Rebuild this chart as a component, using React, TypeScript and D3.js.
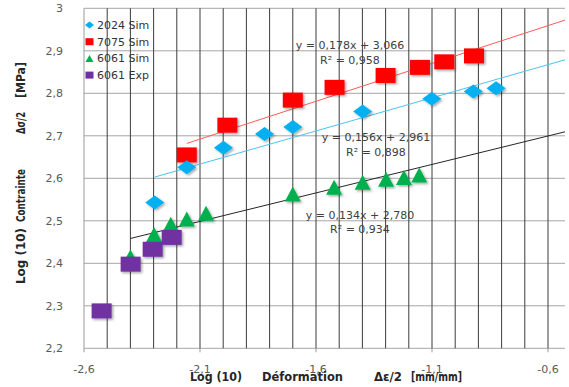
import React from "react";
import * as d3 from "d3";

// ---------- data ----------
const seriesNames = ["2024 Sim", "7075 Sim", "6061 Sim", "6061 Exp"];
const seriesColors = ["#00B0F0", "#FF0000", "#00B050", "#7030A0"];

const x2024 = [-2.295, -2.157, -1.999, -1.822, -1.7, -1.399, -1.101, -0.922, -0.824];
const y2024 = [2.543, 2.626, 2.672, 2.704, 2.721, 2.757, 2.787, 2.804, 2.812];

const x7075 = [-2.157, -1.982, -1.7, -1.52, -1.3, -1.152, -1.047, -0.919];
const y7075 = [2.655, 2.725, 2.784, 2.814, 2.842, 2.861, 2.874, 2.888];

const x6061Sim = [-2.4, -2.298, -2.226, -2.157, -2.074, -1.7, -1.522, -1.399, -1.298, -1.221, -1.155];
const y6061Sim = [2.415, 2.468, 2.492, 2.504, 2.518, 2.563, 2.579, 2.591, 2.598, 2.602, 2.608];

const x6061Exp = [-2.524, -2.399, -2.304, -2.222];
const y6061Exp = [2.288, 2.398, 2.433, 2.461];

// trendlines: 2024, 7075, 6061
const trendSlopes = [0.156, 0.178, 0.134];
const trendIntercepts = [2.961, 3.066, 2.78];
const trendEquations = ["y = 0,156x + 2,961", "y = 0,178x + 3,066", "y = 0,134x + 2,780"];
const trendR2 = ["R² = 0,898", "R² = 0,958", "R² = 0,934"];
const trendColors = ["#4DC3F0", "#FF5A5A", "#262626"];

const yTicks = [2.2, 2.3, 2.4, 2.5, 2.6, 2.7, 2.8, 2.9, 3.0];
const xTickLabels = [-2.6, -2.1, -1.6, -1.1, -0.6];

// ---------- layout ----------
const W = 569, H = 387;
const plotLeft = 84, plotRight = 565, plotTop = 8.3, plotBottom = 348.3;
const xMin = -2.6, xMax = xMin + (plotRight - plotLeft) / 232;

const fmt = (v: number) => {
  const s = Math.abs(v - Math.round(v)) < 1e-9 ? String(Math.round(v)) : v.toFixed(1);
  return s.replace(".", ",");
};

export default function App() {
  const x = d3.scaleLinear().domain([xMin, xMax]).range([plotLeft, plotRight]);
  const y = d3.scaleLinear().domain([2.2, 3.0]).range([plotBottom, plotTop]);

  const minorX = d3.range(-25, -5).map((k) => k / 10).filter((v) => v > xMin + 1e-6 && v < xMax);

  const pts = (xs: number[], ys: number[]) => xs.map((v, i) => [x(v), y(ys[i])] as [number, number]);

  const sq = (cx: number, cy: number, w: number, h: number, c: string, key: any) => (
    <rect key={key} x={cx - w / 2} y={cy - h / 2} width={w} height={h} fill={c} />
  );
  const diamond = (cx: number, cy: number, w: number, h: number, c: string, key: any) => (
    <path key={key} d={`M${cx - w / 2},${cy} L${cx},${cy - h / 2} L${cx + w / 2},${cy} L${cx},${cy + h / 2} Z`} fill={c} />
  );
  const tri = (cx: number, cy: number, w: number, h: number, c: string, key: any) => (
    <path key={key} d={`M${cx - w / 2},${cy + h / 2} L${cx},${cy - h / 2} L${cx + w / 2},${cy + h / 2} Z`} fill={c} />
  );

  const trendStarts = [d3.min(x2024)!, d3.min(x7075)!, d3.min(x6061Sim)!];

  // label positions (pixel layout)
  const labelPos = [
    [376, 141, 156],
    [350, 49, 64],
    [360, 219, 233],
  ];

  const legendMarkers = [diamond, sq, tri, sq];
  const legendSizes = [[9, 7], [8, 7], [8, 7], [8, 7]];

  const axisTitleStyle = { fontFamily: "DejaVu Sans", fontWeight: "bold" as const, fontSize: 11.5, fill: "#262626" };

  return (
    <svg width={W} height={H} style={{ position: "absolute", left: 0, top: 0, background: "#fff" }}>
      <defs>
        <filter id="shadow" x="-50%" y="-50%" width="200%" height="200%">
          <feDropShadow dx="1.5" dy="1.5" stdDeviation="1" floodColor="#000" floodOpacity="0.35" />
        </filter>
      </defs>
      <rect width={W} height={H} fill="#fff" />

      {/* horizontal gridlines */}
      {yTicks.map((t) => (
        <line key={"h" + t} x1={plotLeft} x2={plotRight} y1={y(t)} y2={y(t)} stroke="#a6a6a6" strokeWidth={1} />
      ))}
      {/* vertical gridlines */}
      {minorX.map((t) => (
        <line key={"v" + t} x1={x(t)} x2={x(t)} y1={plotTop} y2={plotBottom} stroke="#3c3c3c" strokeWidth={1} />
      ))}
      {/* y axis line */}
      <line x1={plotLeft} x2={plotLeft} y1={plotTop} y2={plotBottom} stroke="#999" strokeWidth={1} />
      {/* x tick marks */}
      {xTickLabels.map((t) => (
        <line key={"xt" + t} x1={x(t)} x2={x(t)} y1={plotBottom} y2={plotBottom + 4} stroke="#999" />
      ))}

      {/* y tick labels */}
      {yTicks.map((t) => (
        <text key={"yl" + t} x={63} y={y(t)} dy="0.35em" textAnchor="end" fontFamily="DejaVu Sans" fontSize={11} fill="#595959">
          {fmt(t)}
        </text>
      ))}
      {/* x tick labels */}
      {xTickLabels.map((t) => (
        <text key={"xl" + t} x={x(t)} y={373} textAnchor="middle" fontFamily="DejaVu Sans" fontSize={11} fill="#595959">
          {fmt(t)}
        </text>
      ))}

      {/* trendlines */}
      {trendSlopes.map((m, i) => {
        const xs = [trendStarts[i], xMax];
        const d = d3
          .line<number>()
          .x((v) => x(v))
          .y((v) => y(m * v + trendIntercepts[i]))(xs);
        return <path key={"tr" + i} d={d!} stroke={trendColors[i]} strokeWidth={1} fill="none" />;
      })}

      {/* markers */}
      <g filter="url(#shadow)">
        {pts(x7075, y7075).map(([cx, cy], i) => sq(cx, cy, 20, 15, seriesColors[1], "r" + i))}
        {pts(x2024, y2024).map(([cx, cy], i) => diamond(cx, cy, 19, 14, seriesColors[0], "b" + i))}
        {pts(x6061Sim, y6061Sim).map(([cx, cy], i) => tri(cx, cy, 16, 15, seriesColors[2], "g" + i))}
        {pts(x6061Exp, y6061Exp).map(([cx, cy], i) => sq(cx, cy, 20, 15, seriesColors[3], "p" + i))}
      </g>

      {/* trend labels */}
      {trendEquations.map((eq, i) => (
        <g key={"tl" + i} fontFamily="DejaVu Sans" fontSize={11} fill="#404040" textAnchor="middle">
          <text x={labelPos[i][0]} y={labelPos[i][1]} style={{ whiteSpace: "pre" }}>{eq}</text>
          <text x={labelPos[i][0]} y={labelPos[i][2]}>{trendR2[i]}</text>
        </g>
      ))}

      {/* legend */}
      {seriesNames.map((n, i) => {
        const cy = 25 + i * 16.7;
        return (
          <g key={"lg" + i}>
            {legendMarkers[i](89.5, cy, legendSizes[i][0], legendSizes[i][1], seriesColors[i], "lm" + i)}
            <text x={97} y={cy} dy="0.36em" fontFamily="DejaVu Sans" fontSize={11} fill="#333">
              {n}
            </text>
          </g>
        );
      })}

      {/* x axis title */}
      <text y={381} {...axisTitleStyle}>
        <tspan x={190} textLength={52} lengthAdjust="spacingAndGlyphs">Log (10)</tspan>
        <tspan x={262} textLength={81} lengthAdjust="spacingAndGlyphs">Déformation</tspan>
        <tspan x={374} textLength={28} lengthAdjust="spacingAndGlyphs">Δε/2</tspan>
        <tspan x={411} textLength={51} lengthAdjust="spacingAndGlyphs">[mm/mm]</tspan>
      </text>

      {/* y axis title */}
      <text transform="translate(25,0) rotate(-90)" y={0} {...axisTitleStyle} fontSize={13}>
        <tspan x={-284} textLength={56} lengthAdjust="spacingAndGlyphs">Log (10)</tspan>
        <tspan x={-222} textLength={53} lengthAdjust="spacingAndGlyphs">Contrainte</tspan>
        <tspan x={-134} textLength={22} lengthAdjust="spacingAndGlyphs">Δσ/2</tspan>
        <tspan x={-98} textLength={36} lengthAdjust="spacingAndGlyphs">[MPa]</tspan>
      </text>
    </svg>
  );
}
